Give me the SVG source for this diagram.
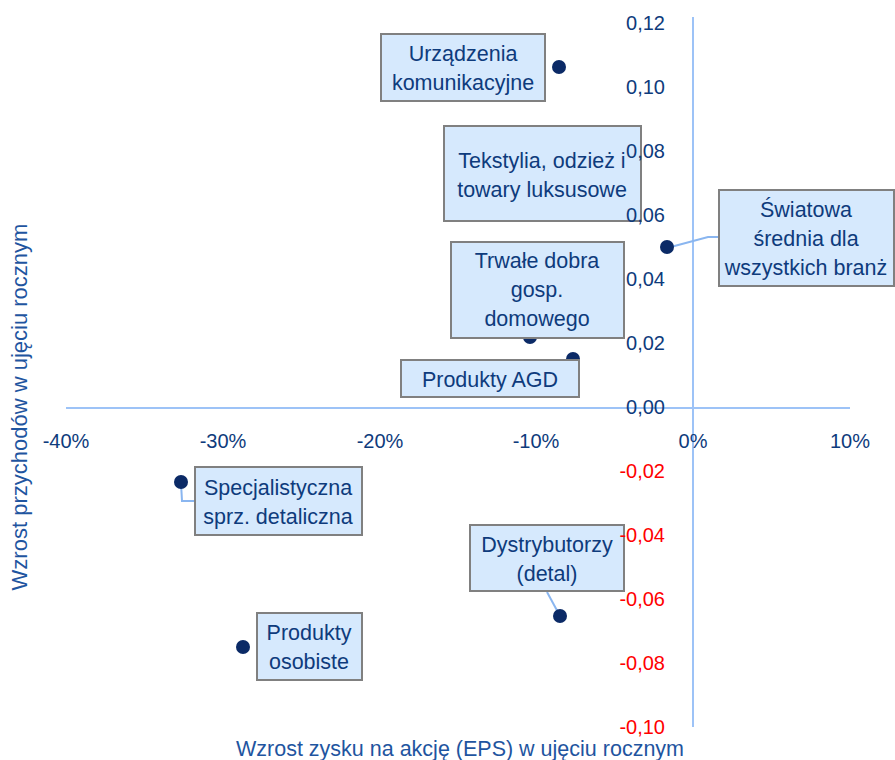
<svg xmlns="http://www.w3.org/2000/svg" width="895" height="760" viewBox="0 0 895 760">
<style>
.axis{stroke:#9DC3F7;stroke-width:2;fill:none}
.lead{stroke:#8AB6F0;stroke-width:2;fill:none}
.tick{font-family:"Liberation Sans",Arial,sans-serif;font-size:20px;fill:#0E3B7C}
.neg{fill:#FF0000}
.xt{font-family:"Liberation Sans",Arial,sans-serif;font-size:20px;fill:#0E3B7C;text-anchor:middle}
.title{font-family:"Liberation Sans",Arial,sans-serif;font-size:21.5px;fill:#1F55A0;text-anchor:middle}
.box{fill:#D6E9FD;stroke:#808080;stroke-width:2}
.lbl{font-family:"Liberation Sans",Arial,sans-serif;font-size:21.5px;fill:#0E3B7C;text-anchor:middle}
.pt{fill:#0B2A66}
</style>
<rect width="895" height="760" fill="#FFFFFF"/>
<g id="axes">
<line class="axis" x1="66" y1="408" x2="850" y2="408"/>
<line class="axis" x1="693" y1="17" x2="693" y2="727"/>
</g>
<g id="x-ticks">
<text class="xt" x="66" y="448">-40%</text>
<text class="xt" x="223" y="448">-30%</text>
<text class="xt" x="380" y="448">-20%</text>
<text class="xt" x="536" y="448">-10%</text>
<text class="xt" x="693" y="448">0%</text>
<text class="xt" x="850" y="448">10%</text>
</g>
<g id="axis-titles">
<text class="title" x="460" y="756">Wzrost zysku na akcję (EPS) w ujęciu rocznym</text>
<text class="title" transform="translate(27,407) rotate(-90)" x="0" y="0" style="font-size:22px">Wzrost przychodów w ujęciu rocznym</text>
</g>
<g id="connectors">
<polyline class="lead" points="667,248 708,237 719,237"/>
<polyline class="lead" points="181,483 182,501 195,501"/>
<line class="lead" x1="547" y1="592" x2="560" y2="616"/>
</g>
<g id="points">
<circle class="pt" cx="559" cy="67" r="7"/>
<circle class="pt" cx="667" cy="247" r="7"/>
<circle class="pt" cx="530" cy="337" r="7"/>
<circle class="pt" cx="573" cy="359" r="7"/>
<circle class="pt" cx="181" cy="482" r="7"/>
<circle class="pt" cx="243" cy="647" r="7"/>
<circle class="pt" cx="560" cy="616" r="7"/>
</g>
<g id="n-urzadzenia">
<rect class="box" x="381" y="34" width="164" height="67"/>
<text class="lbl" x="463" y="61">Urządzenia</text>
<text class="lbl" x="463" y="90">komunikacyjne</text>
</g>
<g id="n-tekstylia">
<rect class="box" x="444" y="126" width="197" height="95"/>
<text class="lbl" x="542" y="168">Tekstylia, odzież i</text>
<text class="lbl" x="542" y="197">towary luksusowe</text>
</g>
<g id="n-trwale">
<rect class="box" x="451" y="242" width="173" height="96"/>
<text class="lbl" x="537" y="268">Trwałe dobra</text>
<text class="lbl" x="537" y="297">gosp.</text>
<text class="lbl" x="537" y="326">domowego</text>
</g>
<g id="n-agd">
<rect class="box" x="401" y="360" width="178" height="37"/>
<text class="lbl" x="490" y="387">Produkty AGD</text>
</g>
<g id="n-swiatowa">
<rect class="box" x="719" y="190" width="175" height="96"/>
<text class="lbl" x="806" y="217">Światowa</text>
<text class="lbl" x="806" y="246">średnia dla</text>
<text class="lbl" x="806" y="275">wszystkich branż</text>
</g>
<g id="n-specjalistyczna">
<rect class="box" x="195" y="467" width="167" height="68"/>
<text class="lbl" x="278" y="495">Specjalistyczna</text>
<text class="lbl" x="278" y="524">sprz. detaliczna</text>
</g>
<g id="n-dystrybutorzy">
<rect class="box" x="470" y="525" width="154" height="66"/>
<text class="lbl" x="547" y="552">Dystrybutorzy</text>
<text class="lbl" x="547" y="581">(detal)</text>
</g>
<g id="n-osobiste">
<rect class="box" x="257" y="613" width="105" height="67"/>
<text class="lbl" x="309" y="640">Produkty</text>
<text class="lbl" x="309" y="669">osobiste</text>
</g>
<g id="y-ticks" text-anchor="end">
<text class="tick" x="665" y="30">0,12</text>
<text class="tick" x="665" y="94">0,10</text>
<text class="tick" x="665" y="158">0,08</text>
<text class="tick" x="665" y="222">0,06</text>
<text class="tick" x="665" y="286">0,04</text>
<text class="tick" x="665" y="350">0,02</text>
<text class="tick" x="665" y="414">0,00</text>
<text class="tick neg" x="665" y="478">-0,02</text>
<text class="tick neg" x="665" y="542">-0,04</text>
<text class="tick neg" x="665" y="606">-0,06</text>
<text class="tick neg" x="665" y="670">-0,08</text>
<text class="tick neg" x="665" y="734">-0,10</text>
</g>
</svg>
